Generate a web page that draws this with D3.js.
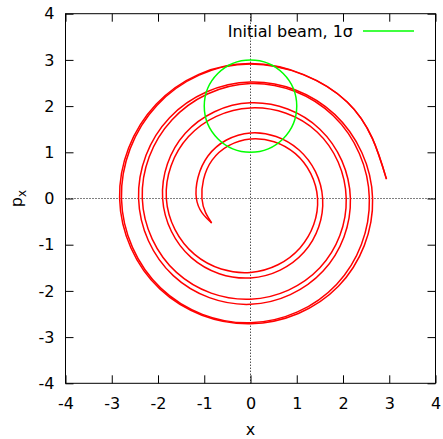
<!DOCTYPE html>
<html>
<head>
<meta charset="utf-8">
<script src="https://cdn.jsdelivr.net/npm/d3@7"></script>
<style>
  html, body { margin: 0; padding: 0; background: #fff; }
  svg { display: block; }
  text { font-family: "DejaVu Sans", sans-serif; }
</style>
</head>
<body>
<svg id="chart" width="443" height="439"></svg>
<script>
// ---- data ----
const xTicks = [-4, -3, -2, -1, 0, 1, 2, 3, 4];
const yTicks = [-4, -3, -2, -1, 0, 1, 2, 3, 4];
const xLabel = "x";
const yLabel = "p";
const yLabelSub = "x";
const legendLabel = "Initial beam, 1σ";

// spiral trajectory: inner strand (from the hairpin tip outward)
const spiralInnerX = [-0.84, -1.05, -0.83, 0.00, 0.97, 1.45, 1.07, 0.00, -1.21, -1.82, -1.34, 0.00, 1.44, 2.07, 1.50, 0.00, -1.60, -2.34, -1.70, 0.00, 1.79, 2.57, 1.86, 0.00, -1.94, -2.79, -2.02, 0.00, 2.09, 2.94];
const spiralInnerY = [-0.53, 0.00, 0.83, 1.29, 0.97, 0.00, -1.07, -1.60, -1.21, 0.00, 1.34, 1.96, 1.44, 0.00, -1.50, -2.18, -1.60, 0.00, 1.70, 2.49, 1.79, 0.00, -1.86, -2.69, -1.94, 0.00, 2.02, 2.91, 2.09, 0.42];
// outer strand (from the hairpin tip outward)
const spiralOuterX = [-0.84, -1.17, -0.92, 0.00, 1.05, 1.56, 1.16, 0.00, -1.28, -1.90, -1.41, 0.00, 1.50, 2.16, 1.57, 0.00, -1.67, -2.42, -1.75, 0.00, 1.82, 2.64, 1.90, 0.00, -1.96, -2.83, -2.04, 0.00, 2.09, 2.94];
const spiralOuterY = [-0.53, 0.00, 0.92, 1.42, 1.05, 0.00, -1.16, -1.72, -1.28, 0.00, 1.41, 2.07, 1.50, 0.00, -1.57, -2.29, -1.67, 0.00, 1.75, 2.52, 1.82, 0.00, -1.90, -2.71, -1.96, 0.00, 2.04, 2.92, 2.09, 0.42];

// initial beam ellipse (1 sigma): centre and radii
const beamCenter = [0, 2];
const beamRadius = [1, 1];

// ---- layout ----
const W = 443, H = 439;
const mLeft = 65.5, mRight = 435.5, mTop = 13.7, mBottom = 383.3;
const svg = d3.select("#chart");

const x = d3.scaleLinear().domain([-4, 4]).range([mLeft, mRight]);
const y = d3.scaleLinear().domain([-4, 4]).range([mBottom, mTop]);

// zero axes (dotted)
svg.append("line")
  .attr("x1", x(0)).attr("x2", x(0)).attr("y1", mTop).attr("y2", mBottom)
  .attr("stroke", "#000").attr("stroke-width", 1).attr("stroke-dasharray", "1,2");
svg.append("line")
  .attr("x1", mLeft).attr("x2", mRight).attr("y1", y(0)).attr("y2", y(0))
  .attr("stroke", "#000").attr("stroke-width", 1).attr("stroke-dasharray", "1,2");

// axes
const fmt = d => String(d);
function styleAxis(g) {
  g.select(".domain").remove();
  g.selectAll("line").attr("stroke", "#000").attr("stroke-width", 1);
  g.selectAll("text").attr("font-family", "DejaVu Sans, sans-serif").attr("font-size", 16).attr("fill", "#000");
  g.attr("font-family", null).attr("font-size", null);
}
svg.append("g").attr("transform", `translate(0,${mBottom})`)
  .call(d3.axisBottom(x).tickValues(xTicks).tickSizeInner(-8).tickSizeOuter(0).tickPadding(14).tickFormat(fmt))
  .call(styleAxis);
svg.append("g").attr("transform", `translate(0,${mTop})`)
  .call(d3.axisTop(x).tickValues(xTicks).tickSizeInner(-8).tickSizeOuter(0).tickFormat(""))
  .call(styleAxis);
svg.append("g").attr("transform", `translate(${mLeft},0)`)
  .call(d3.axisLeft(y).tickValues(yTicks).tickSizeInner(-8).tickSizeOuter(0).tickPadding(11).tickFormat(fmt))
  .call(styleAxis);
svg.append("g").attr("transform", `translate(${mRight},0)`)
  .call(d3.axisRight(y).tickValues(yTicks).tickSizeInner(-8).tickSizeOuter(0).tickFormat(""))
  .call(styleAxis);

// spiral strands
const line = d3.line()
  .x(d => x(d[0])).y(d => y(d[1]))
  .curve(d3.curveNatural);
const strands = [
  d3.zip(spiralInnerX, spiralInnerY),
  d3.zip(spiralOuterX, spiralOuterY)
];
svg.append("g").selectAll("path").data(strands).join("path")
  .attr("d", line)
  .attr("fill", "none").attr("stroke", "#ff0000").attr("stroke-width", 1.5)
  .attr("stroke-linejoin", "round");

// initial beam circle
svg.append("ellipse")
  .attr("cx", x(beamCenter[0])).attr("cy", y(beamCenter[1]))
  .attr("rx", x(beamRadius[0]) - x(0)).attr("ry", y(0) - y(beamRadius[1]))
  .attr("fill", "none").attr("stroke", "#00ff00").attr("stroke-width", 1.5);

// border
svg.append("rect")
  .attr("x", mLeft).attr("y", mTop).attr("width", mRight - mLeft).attr("height", mBottom - mTop)
  .attr("fill", "none").attr("stroke", "#000").attr("stroke-width", 1);

// legend
svg.append("text").attr("x", 353).attr("y", 36.7).attr("text-anchor", "end")
  .attr("font-size", 16).text(legendLabel);
svg.append("line").attr("x1", 363).attr("x2", 414).attr("y1", 31).attr("y2", 31)
  .attr("stroke", "#00ff00").attr("stroke-width", 1.5);

// axis labels
svg.append("text").attr("x", (mLeft + mRight) / 2).attr("y", 434.5).attr("text-anchor", "middle")
  .attr("font-size", 16).text(xLabel);
const yl = svg.append("text")
  .attr("transform", `translate(22,${(mTop + mBottom) / 2}) rotate(-90)`)
  .attr("text-anchor", "middle").attr("font-size", 16);
yl.append("tspan").text(yLabel);
yl.append("tspan").attr("font-size", 12).attr("dy", 4).text(yLabelSub);
</script>
</body>
</html>
